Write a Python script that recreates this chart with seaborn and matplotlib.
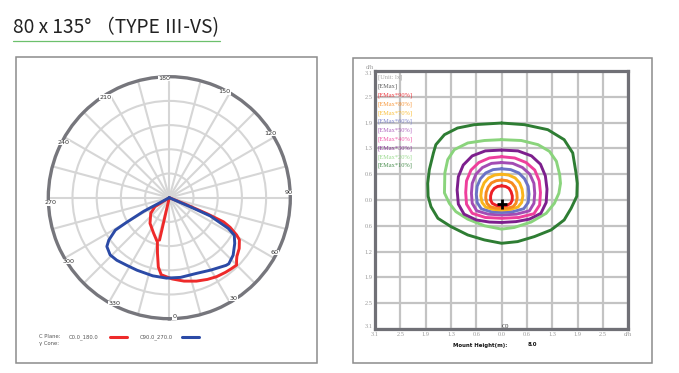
import numpy as np
import pandas as pd
import matplotlib
matplotlib.use("Agg")
import matplotlib.pyplot as plt
from matplotlib.patches import Rectangle
from matplotlib.lines import Line2D
import seaborn as sns

sns.set_theme(style="white")
plt.rcParams['font.family'] = ['DejaVu Sans']

# ---------------- data ----------------
title_text = "80 x 135° （TYPE Ⅲ-VS)"

# polar intensity curves (chart angle in degrees, radius as fraction of outer ring)
c0_180_theta = [-13, -13, -60, -58, -50, -37, -24, -15, -12, -9, -6, 2, 10, 18, 25, 31,
                37, 41, 45, 47, 49, 54, 59, 61, 64, 66, 67, 68, 68]
c0_180_r = [0.36, 0, 0, 0.14, 0.20, 0.265, 0.32, 0.38, 0.47, 0.58, 0.64, 0.672, 0.70, 0.725,
            0.745, 0.761, 0.772, 0.779, 0.787, 0.76, 0.74, 0.714, 0.676, 0.636, 0.56, 0.49,
            0.34, 0.15, 0]
c90_270_theta = [-62, -62, -60, -59, -55, -52, -46, -40, -32, -24, -12, -2, 8, 20, 30, 40,
                 42, 48, 55, 60, 62.5, 66, 66.5, 67]
c90_270_r = [0, 0.24, 0.41, 0.52, 0.61, 0.655, 0.68, 0.675, 0.66, 0.656, 0.66, 0.665, 0.665,
             0.665, 0.69, 0.73, 0.735, 0.71, 0.66, 0.62, 0.55, 0.37, 0.19, 0]
polar_labels = [0, 30, 60, 90, 120, 150, 180, 210, 240, 270, 300, 330]

# isolux contours (d/h units)
iso_levels = ["[EMax*90%]", "[EMax*80%]", "[EMax*70%]", "[EMax*60%]", "[EMax*50%]",
              "[EMax*40%]", "[EMax*30%]", "[EMax*20%]", "[EMax*10%]"]
iso_colors = ["#ec1f26", "#f6891f", "#f9b51c", "#6b73c6", "#a34cb4",
              "#ee3f9c", "#7d1f8d", "#8ad47c", "#2e7d33"]
c90_x = [0, -0.10, -0.18, -0.24, -0.27, -0.27, -0.23, -0.13, 0, 0.13, 0.22, 0.26, 0.26, 0.23, 0.18, 0.10]
c90_y = [0.34, 0.325, 0.28, 0.20, 0.10, 0.0, -0.08, -0.13, -0.14, -0.13, -0.08, 0.0, 0.10, 0.20, 0.28, 0.325]
c80_x = [0, -0.13, -0.25, -0.33, -0.38, -0.39, -0.36, -0.28, -0.15, 0, 0.15, 0.28, 0.35, 0.38,
         0.37, 0.33, 0.25, 0.13]
c80_y = [0.48, 0.465, 0.41, 0.31, 0.18, 0.05, -0.08, -0.16, -0.195, -0.20, -0.195, -0.16, -0.08,
         0.05, 0.18, 0.31, 0.41, 0.465]
c70_x = [0, -0.17, -0.32, -0.43, -0.49, -0.51, -0.48, -0.39, -0.21, 0, 0.21, 0.40, 0.49, 0.52,
         0.50, 0.44, 0.33, 0.17]
c70_y = [0.62, 0.60, 0.53, 0.41, 0.26, 0.10, -0.06, -0.17, -0.225, -0.24, -0.225, -0.17, -0.06,
         0.10, 0.26, 0.41, 0.53, 0.60]
c60_x = [0, -0.21, -0.39, -0.52, -0.60, -0.62, -0.60, -0.50, -0.27, 0, 0.28, 0.54, 0.65, 0.67,
         0.65, 0.56, 0.42, 0.22]
c60_y = [0.75, 0.73, 0.65, 0.51, 0.33, 0.14, -0.06, -0.21, -0.28, -0.30, -0.28, -0.21, -0.06,
         0.14, 0.33, 0.51, 0.65, 0.73]
c50_x = [0, -0.25, -0.47, -0.63, -0.72, -0.74, -0.72, -0.61, -0.33, 0, 0.36, 0.68, 0.79, 0.81,
         0.79, 0.69, 0.51, 0.27]
c50_y = [0.90, 0.88, 0.78, 0.62, 0.40, 0.16, -0.08, -0.26, -0.34, -0.36, -0.34, -0.26, -0.08,
         0.16, 0.40, 0.62, 0.78, 0.88]
c40_x = [0, -0.30, -0.56, -0.75, -0.86, -0.88, -0.86, -0.72, -0.40, 0, 0.42, 0.79, 0.93, 0.95,
         0.92, 0.81, 0.60, 0.32]
c40_y = [1.04, 1.01, 0.90, 0.72, 0.46, 0.18, -0.10, -0.32, -0.42, -0.44, -0.42, -0.33, -0.12,
         0.18, 0.46, 0.72, 0.90, 1.01]
c30_x = [0, -0.40, -0.72, -0.94, -1.06, -1.09, -1.06, -0.92, -0.62, -0.30, 0, 0.35, 0.68, 0.96,
         1.09, 1.11, 1.07, 0.95, 0.73, 0.40]
c30_y = [1.20, 1.18, 1.06, 0.84, 0.56, 0.24, -0.10, -0.34, -0.48, -0.53, -0.54, -0.52, -0.46,
         -0.32, -0.06, 0.26, 0.58, 0.86, 1.06, 1.18]
c20_x = [0, -0.42, -0.83, -1.16, -1.32, -1.39, -1.40, -1.28, -1.12, -0.83, -0.42, 0, 0.31, 0.72,
         1.09, 1.29, 1.40, 1.44, 1.42, 1.34, 1.17, 0.89, 0.48]
c20_y = [1.45, 1.43, 1.37, 1.21, 0.97, 0.65, 0.17, -0.08, -0.28, -0.46, -0.62, -0.70, -0.66,
         -0.53, -0.32, -0.08, 0.16, 0.40, 0.61, 0.93, 1.17, 1.33, 1.43]
c10_x = [0, -0.67, -1.08, -1.40, -1.61, -1.67, -1.77, -1.81, -1.80, -1.73, -1.56, -1.24, -0.83,
         -0.42, 0, 0.39, 0.80, 1.21, 1.53, 1.70, 1.84, 1.85, 1.82, 1.74, 1.53, 1.13, 0.56]
c10_y = [1.85, 1.81, 1.73, 1.57, 1.33, 1.13, 0.73, 0.40, 0.09, -0.16, -0.44, -0.64, -0.84,
         -0.96, -1.04, -1.00, -0.88, -0.72, -0.48, -0.20, 0.09, 0.40, 0.65, 1.13, 1.45, 1.69, 1.81]
iso_x = [c90_x, c80_x, c70_x, c60_x, c50_x, c40_x, c30_x, c20_x, c10_x]
iso_y = [c90_y, c80_y, c70_y, c60_y, c50_y, c40_y, c30_y, c20_y, c10_y]
mark_x = [0.0]
mark_y = [-0.1]

grid_ticks = [-3.1, -2.48, -1.86, -1.24, -0.62, 0.0, 0.62, 1.24, 1.86, 2.48, 3.1]
x_tick_labels = ['3.1', '2.5', '1.9', '1.3', '0.6', '0.0', '0.6', '1.3', '1.9', '2.5', 'd/h']
y_tick_labels = ['3.1', '2.5', '1.9', '1.2', '0.6', '0.0', '0.6', '1.3', '1.9', '2.5', '3.1']

# ---------------- figure ----------------
W, H = 679, 373
fig = plt.figure(figsize=(W / 100, H / 100), dpi=100)
fig.patch.set_facecolor('white')

def fx(x):
    return x / W

def fy(y):
    return 1 - y / H

# title + underline
fig.text(fx(12.7), fy(33.3), title_text, fontsize=13.8, va='baseline', ha='left', color='#222222',
         family=['Noto Sans CJK SC', 'DejaVu Sans'])
fig.add_artist(Line2D([fx(12.7), fx(220)], [fy(41), fy(41)], color='#6cc06c', lw=0.9,
                      transform=fig.transFigure))

# frames
fig.add_artist(Rectangle((fx(16), fy(363)), (317 - 16) / W, (363 - 57) / H, fill=False,
                         ec='#8c8c8c', lw=1.1, transform=fig.transFigure))
fig.add_artist(Rectangle((fx(352.7), fy(363.3)), (651.7 - 352.7) / W, (363.3 - 58.3) / H,
                         fill=False, ec='#8c8c8c', lw=1.1, transform=fig.transFigure))

# ---------------- polar ----------------
cx, cy, R = 169.3, 197.7, 121
axp = fig.add_axes([fx(cx - R), fy(cy + R), 2 * R / W, 2 * R / H], projection='polar')
axp.set_theta_zero_location('S')
axp.set_theta_direction(1)
axp.set_ylim(0, 1)
axp.set_thetagrids(np.arange(0, 360, 15), labels=[''] * 24)
axp.set_rgrids([0.2, 0.4, 0.6, 0.8], labels=[''] * 4)
axp.grid(True, color='#d6d6d6', lw=1.5)
axp.spines['polar'].set_color('#76767c')
axp.spines['polar'].set_linewidth(2.4)
axp.set_facecolor('white')

sns.lineplot(x=np.deg2rad(c0_180_theta), y=c0_180_r, sort=False, estimator=None, ax=axp,
             color='#ee2a2a', lw=2.1)
sns.lineplot(x=np.deg2rad(c90_270_theta), y=c90_270_r, sort=False, estimator=None, ax=axp,
             color='#2b4aa6', lw=2.1)
for ln in axp.get_lines():
    ln.set_solid_joinstyle('round')
axp.set_xlabel('')
axp.set_ylabel('')
for a in polar_labels:
    axp.text(np.deg2rad(a + 2.5), 0.985, str(a), ha='center', va='center', fontsize=4.6,
             color='#333333', bbox=dict(fc='white', ec='none', pad=0.2), zorder=5)

# polar legend
fig.text(fx(39.3), fy(336.7), 'C Plane:', fontsize=3.8, color='#555555', va='center')
fig.text(fx(39.3), fy(343.3), 'γ Cone:', fontsize=3.8, color='#555555', va='center')
fig.text(fx(68.3), fy(336.7), 'C0.0_180.0', fontsize=3.8, color='#555555', va='center')
fig.text(fx(140), fy(336.7), 'C90.0_270.0', fontsize=3.8, color='#555555', va='center')
fig.add_artist(Line2D([fx(110), fx(126.7)], [fy(336.7)] * 2, color='#ee2a2a', lw=2.2,
                      transform=fig.transFigure))
fig.add_artist(Line2D([fx(182.3), fx(199)], [fy(336.7)] * 2, color='#2b4aa6', lw=2.2,
                      transform=fig.transFigure))

# ---------------- isolux grid ----------------
axg = fig.add_axes([fx(375), fy(329), 253.3 / W, 258 / H])
axg.set_xlim(-3.1, 3.1)
axg.set_ylim(-3.1, 3.1)
axg.set_xticks(grid_ticks)
axg.set_xticklabels(x_tick_labels)
axg.set_yticks(grid_ticks)
axg.set_yticklabels(y_tick_labels)
axg.set_axisbelow(True)
axg.grid(True, color='#c3c3c3', lw=1.6)
for s in axg.spines.values():
    s.set_color('#707076')
    s.set_linewidth(2.3)
axg.tick_params(length=0, labelsize=4.6, labelcolor='#9a9a9a', pad=2)
for lab in axg.get_xticklabels() + axg.get_yticklabels():
    lab.set_family(['Liberation Serif', 'DejaVu Serif'])
ylabs = axg.get_yticklabels()
ylabs[-1].set_va('top')
ylabs[0].set_va('bottom')

for i in range(len(iso_levels) - 1, -1, -1):
    xs = list(iso_x[i]) + [iso_x[i][0]]
    ys = list(iso_y[i]) + [iso_y[i][0]]
    sns.lineplot(x=xs, y=ys, sort=False, estimator=None, ax=axg, color=iso_colors[i], lw=2.1)
for ln in axg.get_lines():
    ln.set_solid_joinstyle('round')
sns.scatterplot(x=mark_x, y=mark_y, marker='+', s=45, color='black', linewidth=2.0, ax=axg,
                zorder=10)
axg.set_xlabel('')
axg.set_ylabel('')

serif = ['Liberation Serif', 'DejaVu Serif']
fig.text(fx(370), fy(67.3), 'd/h', fontsize=4.6, color='#9a9a9a', ha='center', va='center',
         family=serif)
legend_texts = ["[Unit: lx]", "[EMax]"] + iso_levels
legend_colors = ["#9a9a9a", "#444444"] + iso_colors
for i, (t, c) in enumerate(zip(legend_texts, legend_colors)):
    fig.text(fx(377.7), fy(77.7 + i * 8.8), t, fontsize=4.6, color=c, ha='left', va='center',
             family=serif, alpha=0.85)
fig.text(fx(505.7), fy(326.5), 'C0', fontsize=4.6, color='#333333', ha='center', va='center',
         family=serif)
fig.text(fx(480), fy(345), 'Mount Height(m):', fontsize=3.9, color='#111111', ha='center',
         va='center', weight='bold')
fig.text(fx(532), fy(345), '8.0', fontsize=3.9, color='#111111', ha='center', va='center',
         weight='bold')

fig.savefig('out.png', dpi=100, facecolor='white')
